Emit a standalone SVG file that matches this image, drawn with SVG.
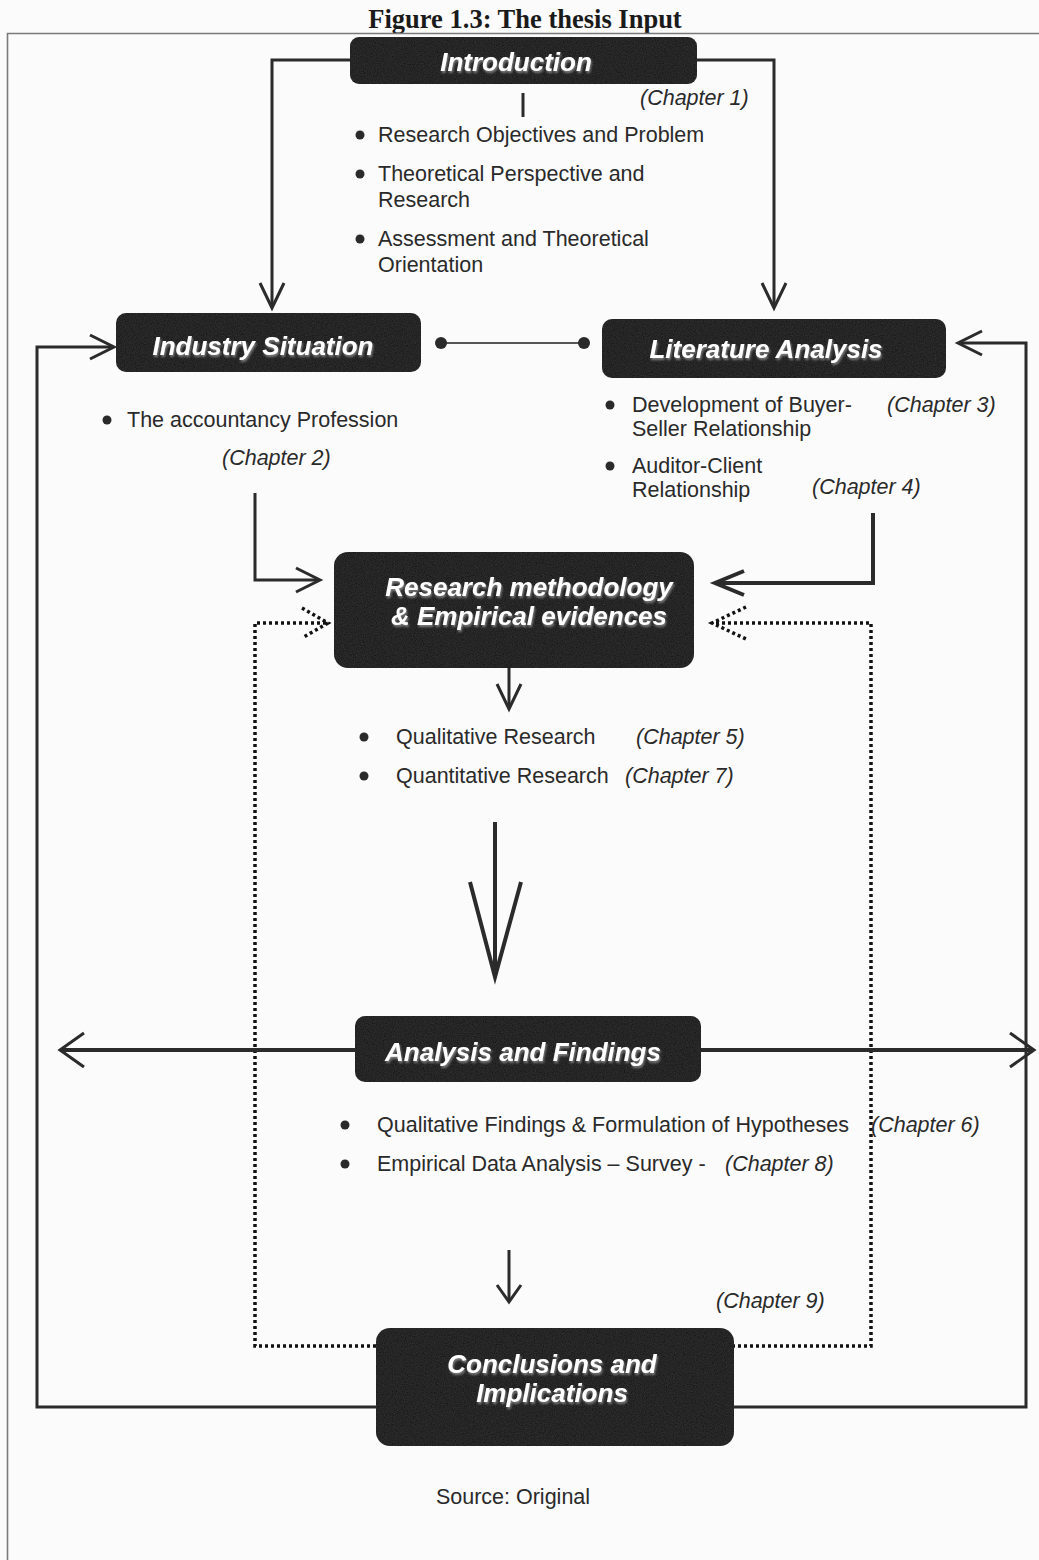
<svg xmlns="http://www.w3.org/2000/svg" width="1039" height="1560" viewBox="0 0 1039 1560">
  <style>
    .frame { fill: none; stroke: #7a7a7a; stroke-width: 1.6; }
    .ln { fill: none; stroke: #2b2b2b; stroke-width: 3; stroke-linejoin: miter; }
    .thick { stroke-width: 4; }
    .thin { fill: none; stroke: #555; stroke-width: 2; }
    .dot { fill: none; stroke: #111; stroke-width: 3.5; stroke-dasharray: 3 3; }
    .box { fill: #161616; }
    .bt { font-family: "Liberation Sans", Arial, sans-serif; font-weight: bold; font-style: italic; font-size: 26px; fill: #ffffff; text-anchor: middle; }
    .tx { font-family: "Liberation Sans", Arial, sans-serif; font-size: 21.5px; fill: #2a2a2a; }
    .ch { font-family: "Liberation Sans", Arial, sans-serif; font-size: 21.5px; font-style: italic; fill: #2a2a2a; }
    .bul { fill: #2a2a2a; }
    .title { font-family: "Liberation Serif", "Times New Roman", serif; font-weight: bold; font-size: 26.5px; fill: #1a1a1a; text-anchor: middle; }
  </style>
  <defs>
    <filter id="glow" x="-10%" y="-30%" width="120%" height="160%">
      <feDropShadow dx="1" dy="2" stdDeviation="1.2" flood-color="#8a8a8a" flood-opacity="0.9"/>
    </filter>
    <filter id="grain" x="0" y="0" width="100%" height="100%">
      <feTurbulence type="fractalNoise" baseFrequency="0.9" numOctaves="2" seed="3" result="n"/>
      <feColorMatrix in="n" type="matrix" values="0 0 0 0 0.3  0 0 0 0 0.3  0 0 0 0 0.3  0 0 0 0.1 0" result="speck"/>
      <feComposite in="speck" in2="SourceGraphic" operator="in" result="clip"/>
      <feMerge><feMergeNode in="SourceGraphic"/><feMergeNode in="clip"/></feMerge>
    </filter>
  </defs>

  <rect x="0" y="0" width="1039" height="1560" fill="#fbfbfb"/>

  <!-- caption and outer frame -->
  <text class="title" x="525" y="28">Figure 1.3: The thesis Input</text>
  <path class="frame" d="M1039,33.5 H7.5 V1560"/>

  <!-- connectors -->
  <g id="connectors">
    <!-- Introduction to Industry Situation -->
    <path class="ln" d="M352,60 H272 V306"/>
    <polyline class="ln" points="260,283 272,308 284,283"/>
    <!-- Introduction to Literature Analysis -->
    <path class="ln" d="M695,60 H774 V306"/>
    <polyline class="ln" points="762,283 774,308 786,283"/>
    <!-- tick under Introduction -->
    <path class="ln" d="M523,93 V117"/>

    <!-- left feedback loop into Industry Situation -->
    <path class="ln" d="M378,1407 H37 V347 H113"/>
    <polyline class="ln" points="90,335 114,347 90,359"/>
    <!-- right feedback loop into Literature Analysis -->
    <path class="ln" d="M732,1407 H1026 V343 H960"/>
    <polyline class="ln" points="982,331 958,343 982,355"/>

    <!-- link between Industry Situation and Literature Analysis -->
    <line class="thin" x1="441" y1="343" x2="584" y2="343"/>
    <circle cx="441" cy="343" r="6" fill="#2a2a2a"/>
    <circle cx="584" cy="343" r="6" fill="#2a2a2a"/>

    <!-- Industry Situation to Research methodology -->
    <path class="ln" d="M255,493 V580 H318"/>
    <polyline class="ln" points="296,568 320,580 296,592"/>
    <!-- Literature Analysis to Research methodology -->
    <path class="ln thick" d="M873,513 V583 H718"/>
    <polyline class="ln thick" points="744,571 715,583 744,595"/>

    <!-- dotted feedback from Conclusions -->
    <path class="dot" d="M326,623 H255 V1346 H378"/>
    <polyline class="dot" points="302,608 328,623 302,638"/>
    <path class="dot" d="M716,623 H871 V1346 H732"/>
    <polyline class="dot" points="746,607 712,623 746,639"/>

    <!-- Research methodology down -->
    <path class="ln" d="M509,668 V707"/>
    <polyline class="ln" points="497,684 509,709 521,684"/>
    <!-- long arrow to Analysis -->
    <path class="ln thick" d="M495,822 V975"/>
    <polyline class="ln thick" points="470,882 495,977 521,882"/>

    <!-- Analysis outward arrows -->
    <path class="ln thick" d="M62,1050 H1032"/>
    <polyline class="ln" points="84,1033 60,1050 84,1067"/>
    <polyline class="ln" points="1010,1033 1034,1050 1010,1067"/>

    <!-- Analysis to Conclusions -->
    <path class="ln" d="M509,1250 V1300"/>
    <polyline class="ln" points="497,1285 509,1302 521,1285"/>
  </g>

  <!-- Introduction -->
  <g id="introduction">
    <rect class="box" x="350" y="37" width="347" height="47" rx="9" filter="url(#grain)"/>
    <text class="bt" x="516" y="71" filter="url(#glow)">Introduction</text>
    <text class="ch" x="640" y="105">(Chapter 1)</text>
    <circle class="bul" cx="360" cy="135" r="4.5"/>
    <text class="tx" x="378" y="142">Research Objectives and Problem</text>
    <circle class="bul" cx="360" cy="174" r="4.5"/>
    <text class="tx" x="378" y="181">Theoretical Perspective and</text>
    <text class="tx" x="378" y="207">Research</text>
    <circle class="bul" cx="360" cy="239" r="4.5"/>
    <text class="tx" x="378" y="246">Assessment and Theoretical</text>
    <text class="tx" x="378" y="272">Orientation</text>
  </g>

  <!-- Industry Situation -->
  <g id="industry-situation">
    <rect class="box" x="116" y="313" width="305" height="59" rx="10" filter="url(#grain)"/>
    <text class="bt" x="263" y="355" filter="url(#glow)">Industry Situation</text>
    <circle class="bul" cx="107" cy="420" r="4.5"/>
    <text class="tx" x="127" y="427">The accountancy Profession</text>
    <text class="ch" x="222" y="465">(Chapter 2)</text>
  </g>

  <!-- Literature Analysis -->
  <g id="literature-analysis">
    <rect class="box" x="602" y="319" width="344" height="59" rx="10" filter="url(#grain)"/>
    <text class="bt" x="766" y="358" filter="url(#glow)">Literature Analysis</text>
    <circle class="bul" cx="610" cy="405" r="4.5"/>
    <text class="tx" x="632" y="412">Development of Buyer-</text>
    <text class="tx" x="632" y="436">Seller Relationship</text>
    <text class="ch" x="887" y="412">(Chapter 3)</text>
    <circle class="bul" cx="610" cy="466" r="4.5"/>
    <text class="tx" x="632" y="473">Auditor-Client</text>
    <text class="tx" x="632" y="497">Relationship</text>
    <text class="ch" x="812" y="494">(Chapter 4)</text>
  </g>

  <!-- Research methodology -->
  <g id="research-methodology">
    <rect class="box" x="334" y="552" width="360" height="116" rx="14" filter="url(#grain)"/>
    <text class="bt" x="529" y="596" filter="url(#glow)">Research methodology</text>
    <text class="bt" x="529" y="625" filter="url(#glow)">&amp; Empirical evidences</text>
    <circle class="bul" cx="364" cy="737" r="4.5"/>
    <text class="tx" x="396" y="744">Qualitative Research</text>
    <text class="ch" x="636" y="744">(Chapter 5)</text>
    <circle class="bul" cx="364" cy="776" r="4.5"/>
    <text class="tx" x="396" y="783">Quantitative Research</text>
    <text class="ch" x="625" y="783">(Chapter 7)</text>
  </g>

  <!-- Analysis and Findings -->
  <g id="analysis-findings">
    <rect class="box" x="355" y="1016" width="346" height="66" rx="10" filter="url(#grain)"/>
    <text class="bt" x="523" y="1061" filter="url(#glow)">Analysis and Findings</text>
    <circle class="bul" cx="345" cy="1125" r="4.5"/>
    <text class="tx" x="377" y="1132">Qualitative Findings &amp; Formulation of Hypotheses</text>
    <text class="ch" x="871" y="1132">(Chapter 6)</text>
    <circle class="bul" cx="345" cy="1164" r="4.5"/>
    <text class="tx" x="377" y="1171">Empirical Data Analysis – Survey -</text>
    <text class="ch" x="725" y="1171">(Chapter 8)</text>
  </g>

  <!-- Conclusions and Implications -->
  <g id="conclusions">
    <text class="ch" x="716" y="1308">(Chapter 9)</text>
    <rect class="box" x="376" y="1328" width="358" height="118" rx="14" filter="url(#grain)"/>
    <text class="bt" x="552" y="1373" filter="url(#glow)">Conclusions and</text>
    <text class="bt" x="552" y="1402" filter="url(#glow)">Implications</text>
  </g>

  <text class="tx" x="513" y="1504" text-anchor="middle">Source: Original</text>
</svg>
